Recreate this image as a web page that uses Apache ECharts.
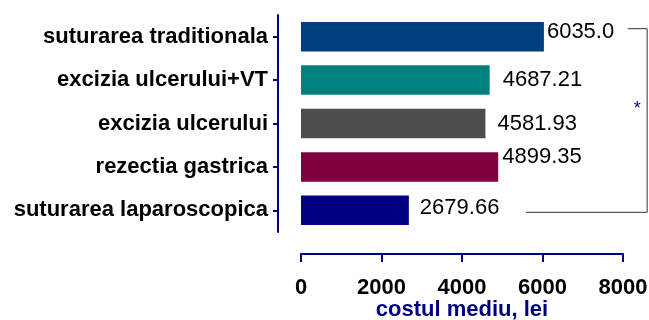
<!DOCTYPE html>
<html>
<head>
<meta charset="utf-8">
<script src="https://cdn.jsdelivr.net/npm/echarts@6/dist/echarts.min.js"></script>
<style>
  html, body { margin: 0; padding: 0; background: #fff; }
  #chart { width: 649px; height: 320px; }
</style>
</head>
<body>
<div id="chart"></div>
<script>
// Mean cost per surgical procedure (lei)
const procedures = [
  'suturarea traditionala',
  'excizia ulcerului+VT',
  'excizia ulcerului',
  'rezectia gastrica',
  'suturarea laparoscopica'
];
const costLabels = ['6035.0', '4687.21', '4581.93', '4899.35', '2679.66'];
const costs = costLabels.map(Number);
const barColors = ['#003F7F', '#00807F', '#4D4D4D', '#800040', '#000080'];
const xTicks = [0, 2000, 4000, 6000, 8000];

// label placement tweaks per bar: [gap after bar, vertical shift]
const labelShift = [[3, -5], [13, 0], [12, 0], [4, -10], [11, -2]];

const FONT = "'Liberation Sans', Arial, sans-serif";
const AXIS_BLUE = '#000080';

const chart = echarts.init(document.getElementById('chart'), null, { renderer: 'canvas' });

const option = {
  animation: false,
  backgroundColor: '#fff',
  grid: { left: 301, right: 26, top: 15, bottom: 88, containLabel: false, outerBoundsMode: 'none' },
  xAxis: {
    type: 'value',
    min: xTicks[0],
    max: xTicks[xTicks.length - 1],
    interval: xTicks[1] - xTicks[0],
    offset: 22,
    splitLine: { show: false },
    axisLine: { show: true, onZero: false, lineStyle: { color: AXIS_BLUE, width: 2 } },
    axisTick: { show: true, length: 8, lineStyle: { color: AXIS_BLUE, width: 2 } },
    axisLabel: {
      margin: 23,
      color: '#000',
      fontFamily: FONT,
      fontWeight: 'bold',
      fontSize: 22,
      formatter: v => String(v)
    },
    name: 'costul mediu, lei',
    nameLocation: 'middle',
    nameGap: 45,
    nameMoveOverlap: false,
    nameTextStyle: {
      color: AXIS_BLUE,
      fontFamily: FONT,
      fontWeight: 'bold',
      fontSize: 22
    }
  },
  yAxis: {
    type: 'category',
    data: procedures,
    inverse: true,
    offset: 23,
    axisLine: { show: true, onZero: false, lineStyle: { color: AXIS_BLUE, width: 2 } },
    axisTick: { show: true, alignWithLabel: true, length: 5, lineStyle: { color: AXIS_BLUE, width: 2 } },
    axisLabel: {
      margin: 10,
      color: '#000',
      fontFamily: FONT,
      fontWeight: 'bold',
      fontSize: 22
    }
  },
  series: [{
    type: 'bar',
    barWidth: '68%',
    data: costs.map((v, i) => ({
      value: v,
      itemStyle: { color: barColors[i] },
      label: {
        show: true,
        position: 'right',
        distance: labelShift[i][0],
        offset: [0, labelShift[i][1]],
        formatter: () => costLabels[i],
        color: '#000',
        fontFamily: FONT,
        fontSize: 22
      }
    }))
  }]
};

chart.setOption(option);

// significance bracket between the first and last procedure
const px = (v, cat) => chart.convertToPixel({ gridIndex: 0 }, [v, cat]);
const topPt = px(8120, 0);
const botPt = px(5590, procedures.length - 1);
const rightX = px(8600, 0)[0];
const yTop = topPt[1] - 8;
const yBot = botPt[1] + 2;

chart.setOption({
  graphic: [
    {
      type: 'polyline',
      shape: { points: [[topPt[0], yTop], [rightX, yTop], [rightX, yBot], [botPt[0], yBot]] },
      style: { stroke: '#333', lineWidth: 1, fill: null }
    },
    {
      type: 'text',
      x: rightX - 10,
      y: (yTop + yBot) / 2 - 11,
      style: {
        text: '*',
        fill: AXIS_BLUE,
        font: '18px ' + FONT,
        align: 'center',
        verticalAlign: 'middle'
      }
    }
  ]
});
</script>
</body>
</html>
